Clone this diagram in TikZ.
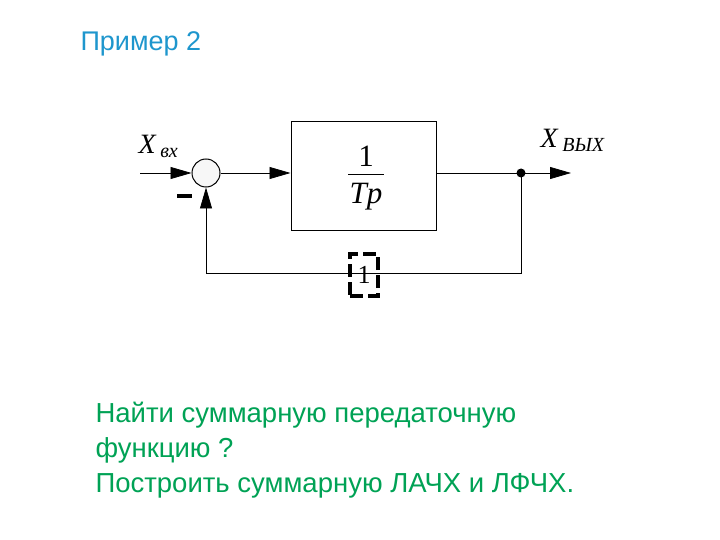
\documentclass[tikz,border=0pt]{standalone}
\usepackage{fontspec}
\setmainfont{Liberation Sans}
\newfontfamily\serif{Liberation Serif}
\usetikzlibrary{arrows.meta}
\definecolor{titleblue}{RGB}{30,150,205}
\definecolor{textgreen}{RGB}{0,162,85}
\tikzset{
  line/.style={line width=0.8pt},
  arr/.style={line, -{Triangle[length=21pt,width=12pt]}},
  lbl/.style={font=\serif\itshape\fontsize{28}{28}\selectfont},
  frac/.style={font=\serif\fontsize{31}{31}\selectfont, inner sep=0pt},
  task/.style={text=textgreen, anchor=base west, font=\fontsize{27.5}{27.5}\selectfont}
}

\begin{document}
\begin{tikzpicture}[x=1pt,y=-1pt]
		%%%%% START %%%%%
		\useasboundingbox (0,0) rectangle (720,540);
		
		\node[text=titleblue, anchor=base west, font=\fontsize{27}{27}\selectfont] (title) at (77,51) {Пример 2};
		
		% structure
		\node[draw, line width=1pt, circle, fill=black!3, minimum size=28pt, inner sep=0pt] (sum) at (206,173) {};
		\node[draw, line width=1pt, minimum width=145pt, minimum height=109pt] (plant) at (363.5,176.5) {};
		\node[frac] (num) at (366,156) {1};
		\node[frac] (den) at (366,197) {\itshape Tp};
		\draw[line width=1pt] (348,175) -- (384,175);
		\coordinate (in) at (140,173);
		\coordinate (out) at (571,173);
		\fill (521,173) circle (4.5) coordinate (dot);
		\coordinate (fbr) at (521,273);
		\coordinate (fbl) at (206,273);
		
		\draw[arr] (in) -- (sum.west);
		\draw[arr] (sum.east) -- (sum.east -| plant.west);
		\draw[line] (dot -| plant.east) -- (dot);
		\draw[arr] (dot) -- (out);
		\draw[arr] (dot) -- (fbr) -- (fbl) -- (sum.south);
		
		% feedback gain
		\node[draw, line width=3.5pt, dash pattern=on 13pt off 5pt, minimum width=28pt, minimum height=42pt, inner sep=0pt,
			font=\serif\fontsize{26}{26}\selectfont] (gain) at (364,275) {1};
		
		\draw[line width=3.5pt] (177,196) -- (192,196);
		
		\node[lbl, anchor=base west] (xin) at (135,154) {X\,\raisebox{-4pt}{\fontsize{20}{20}\selectfont вх}};
		\node[lbl, anchor=base west] (xout) at (537,148) {X\,\raisebox{-4pt}{\fontsize{20}{20}\selectfont ВЫХ}};
		
		\node[task] (q1) at (92,422) {Найти суммарную передаточную};
		\node[task] (q2) at (92,457) {функцию ?};
		\node[task] (q3) at (92,492) {Построить суммарную ЛАЧХ и ЛФЧХ.};
		
		%%%%% END %%%%%
	\end{tikzpicture}
\end{document}
